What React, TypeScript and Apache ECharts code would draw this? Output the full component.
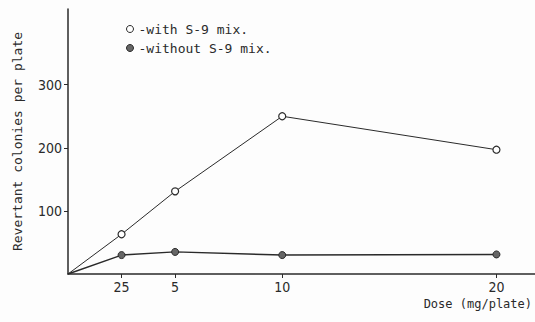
import React, { useEffect, useRef } from "react";
import * as echarts from "echarts";

const doses = [0, 2.5, 5, 10, 20];
const withS9 = [0, 63, 131, 250, 197];
const withoutS9 = [0, 30, 35, 30, 31];
const xTickValues = [2.5, 5, 10, 20];
const xTickLabels = ["25", "5", "10", "20"];
const yTickValues = [100, 200, 300];
const seriesNames = ["with S-9 mix.", "without S-9 mix."];

const mono = "'DejaVu Sans Mono', monospace";
const narrow = "'Liberation Sans Narrow', 'DejaVu Sans Condensed', sans-serif";
const ink = "#2a2a2a";

export default function App() {
  const ref = useRef<HTMLDivElement>(null);
  useEffect(() => {
    if (!ref.current) return;
    const chart = echarts.init(ref.current, undefined, { renderer: "svg" });
    const mk = (vals: number[]) =>
      doses.map((d, i) =>
        i === 0 ? { value: [d, vals[i]], symbol: "none" } : { value: [d, vals[i]] }
      );
    chart.setOption({
      animation: false,
      backgroundColor: "#fdfdfd",
      grid: { left: 68, right: 0, top: 9, bottom: 48, containLabel: false, outerBoundsMode: "none" },
      legend: {
        orient: "vertical",
        left: 121,
        top: 16,
        itemWidth: 7,
        itemHeight: 7,
        itemGap: 3,
        formatter: (n: string) => "-" + n,
        textStyle: { fontFamily: mono, fontSize: 13, color: ink, lineHeight: 16 },
        data: [
          { name: seriesNames[0], icon: "circle", itemStyle: { color: "#fff", borderColor: ink, borderWidth: 1 } },
          { name: seriesNames[1], icon: "circle", itemStyle: { color: "#666", borderColor: ink, borderWidth: 1 } },
        ],
      },
      xAxis: {
        type: "value",
        min: 0,
        max: 21.8,
        splitLine: { show: false },
        axisLine: { lineStyle: { color: ink, width: 1.5 } },
        axisTick: { show: true, length: 4, customValues: xTickValues, lineStyle: { color: ink } },
        axisLabel: {
          customValues: xTickValues,
          margin: 6,
          fontFamily: narrow,
          fontSize: 14,
          color: ink,
          formatter: (v: number) => {
            const i = xTickValues.indexOf(v);
            return i >= 0 ? xTickLabels[i] : "";
          },
        },
      },
      yAxis: {
        type: "value",
        min: 0,
        max: 420,
        name: "Revertant colonies per plate",
        nameLocation: "middle",
        nameGap: 44,
        nameTextStyle: { fontFamily: mono, fontSize: 13, color: ink },
        splitLine: { show: false },
        axisLine: { show: true, lineStyle: { color: ink, width: 1.5 } },
        axisTick: { show: true, length: 4, customValues: yTickValues, lineStyle: { color: ink } },
        axisLabel: {
          customValues: yTickValues,
          margin: 6,
          fontFamily: narrow,
          fontSize: 14,
          color: ink,
        },
      },
      graphic: [
        {
          type: "text",
          right: 3,
          top: 298,
          style: { text: "Dose (mg/plate)", font: "12px " + mono, fill: ink },
        },
      ],
      series: [
        {
          name: seriesNames[0],
          type: "line",
          data: mk(withS9),
          symbol: "circle",
          symbolSize: 7,
          lineStyle: { color: ink, width: 1 },
          itemStyle: { color: "#fff", borderColor: ink, borderWidth: 1.2 },
        },
        {
          name: seriesNames[1],
          type: "line",
          data: mk(withoutS9),
          symbol: "circle",
          symbolSize: 7,
          lineStyle: { color: ink, width: 1.4 },
          itemStyle: { color: "#666", borderColor: ink, borderWidth: 1 },
        },
      ],
    });
    return () => chart.dispose();
  }, []);
  return (
    <div
      ref={ref}
      style={{ position: "absolute", left: 0, top: 0, width: 535, height: 322 }}
    />
  );
}
